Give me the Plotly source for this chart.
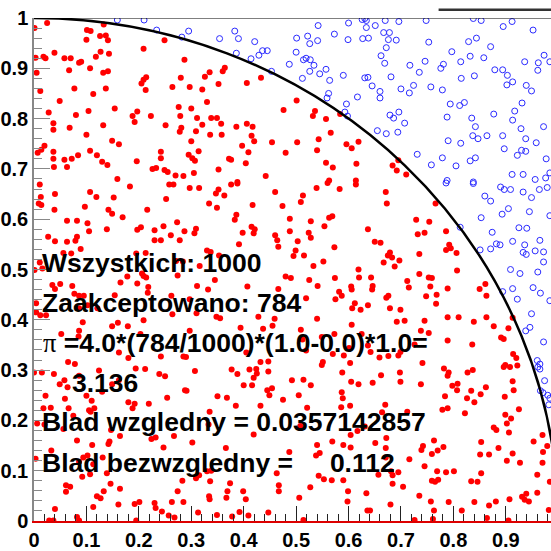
import plotly.graph_objects as go

# Monte Carlo estimate of pi: accepted points (inside the unit quarter circle)
inside_pts = [
    (0.001,0.980),(0.025,0.990),(0.101,0.976),(0.108,0.974),(0.133,0.987),(0.100,0.957),
    (0.126,0.964),(0.137,0.965),(0.141,0.956),(0.249,0.956),(0.209,0.939),(0.039,0.931),
    (0.003,0.921),(0.018,0.923),(0.022,0.920),(0.058,0.920),(0.070,0.920),(0.127,0.933),
    (0.118,0.923),(0.143,0.929),(0.086,0.911),(0.090,0.913),(0.005,0.891),(0.067,0.896),
    (0.107,0.900),(0.132,0.891),(0.141,0.894),(0.287,0.917),(0.214,0.882),(0.209,0.877),
    (0.205,0.870),(0.213,0.857),(0.280,0.881),(0.264,0.863),(0.012,0.855),(0.077,0.860),
    (0.113,0.849),(0.137,0.860),(0.049,0.835),(0.028,0.812),(0.154,0.820),(0.197,0.814),
    (0.188,0.805),(0.192,0.793),(0.223,0.805),(0.276,0.823),(0.279,0.805),(0.104,0.815),
    (0.080,0.807),(0.037,0.791),(0.037,0.778),(0.068,0.782),(0.132,0.787),(0.251,0.787),
    (0.281,0.782),(0.278,0.774),(0.100,0.768),(0.149,0.756),(0.162,0.749),(0.020,0.746),
    (0.014,0.738),(0.007,0.732),(0.107,0.736),(0.084,0.727),(0.120,0.727),(0.037,0.734),
    (0.037,0.720),(0.058,0.718),(0.072,0.720),(0.130,0.714),(0.140,0.708),(0.196,0.715),
    (0.242,0.734),(0.242,0.721),(0.038,0.704),(0.063,0.704),(0.226,0.700),(0.233,0.702),
    (0.249,0.698),(0.255,0.694),(0.270,0.687),(0.285,0.686),(0.159,0.680),
    (0.297,0.863),(0.321,0.858),(0.326,0.883),(0.335,0.892),(0.352,0.869),(0.360,0.894),
    (0.364,0.901),(0.406,0.871),(0.433,0.881),(0.300,0.820),(0.330,0.833),(0.311,0.801),
    (0.338,0.801),(0.349,0.801),(0.321,0.788),(0.357,0.790),(0.309,0.775),(0.336,0.768),
    (0.358,0.768),(0.386,0.784),(0.406,0.790),(0.417,0.784),(0.415,0.766),(0.420,0.755),
    (0.397,0.746),(0.409,0.733),(0.300,0.755),(0.314,0.735),(0.295,0.728),(0.302,0.721),
    (0.307,0.716),(0.372,0.720),(0.376,0.718),(0.404,0.711),(0.352,0.699),(0.305,0.692),
    (0.388,0.674),(0.442,0.686),(0.454,0.753),(0.480,0.732),(0.476,0.817),(0.501,0.836),
    (0.502,0.753),(0.532,0.805),(0.536,0.815),(0.557,0.799),(0.566,0.772),(0.543,0.759),
    (0.540,0.737),(0.584,0.809),(0.596,0.749),(0.606,0.741),(0.619,0.754),(0.557,0.712),
    (0.570,0.703),(0.615,0.710),(0.563,0.677),(0.614,0.677),
    (0.695,0.717),(0.684,0.707),(0.692,0.697),(0.710,0.689),
    (0.011,0.669),(0.013,0.644),(0.009,0.631),(0.014,0.628),(0.040,0.650),(0.039,0.619),
    (0.107,0.654),(0.119,0.644),(0.152,0.643),(0.183,0.665),(0.097,0.625),(0.142,0.619),
    (0.149,0.611),(0.169,0.604),(0.063,0.597),(0.082,0.597),(0.102,0.592),(0.105,0.576),
    (0.139,0.580),(0.197,0.579),(0.204,0.584),(0.216,0.619),(0.027,0.565),(0.040,0.556),
    (0.063,0.555),(0.079,0.557),(0.082,0.565),(0.089,0.541),(0.056,0.533),(0.071,0.532),
    (0.230,0.578),(0.230,0.558),(0.247,0.586),(0.261,0.568),(0.273,0.594),(0.258,0.669),
    (0.266,0.669),(0.252,0.640),(0.287,0.576),(0.278,0.558),(0.242,0.558),(0.213,0.533),
    (0.195,0.532),(0.001,0.499),(0.011,0.514),(0.016,0.502),(0.271,0.517),(0.274,0.488),
    (0.284,0.516),(0.206,0.492),(0.209,0.487),(0.214,0.484),(0.178,0.486),(0.165,0.474),
    (0.154,0.449),(0.197,0.472),(0.218,0.465),(0.217,0.454),(0.035,0.469),(0.040,0.461),
    (0.050,0.471),(0.073,0.467),(0.077,0.452),(0.086,0.448),(0.095,0.448),(0.102,0.429),
    (0.121,0.423),(0.086,0.423),(0.004,0.433),(0.004,0.415),(0.012,0.409),(0.023,0.409),
    (0.093,0.395),(0.086,0.378),(0.085,0.367),(0.052,0.372),(0.065,0.316),(0.078,0.312),
    (0.149,0.387),(0.160,0.394),(0.179,0.387),(0.209,0.399),(0.203,0.372),(0.162,0.335),
    (0.180,0.324),(0.242,0.327),(0.264,0.411),(0.262,0.448),(0.285,0.327),
    (0.297,0.662),(0.315,0.662),(0.352,0.659),(0.347,0.651),(0.363,0.647),(0.376,0.669),
    (0.388,0.671),(0.334,0.631),(0.349,0.623),(0.460,0.654),(0.417,0.628),(0.474,0.626),
    (0.513,0.647),(0.509,0.634),(0.539,0.662),(0.560,0.672),(0.583,0.660),(0.614,0.669),
    (0.386,0.609),(0.383,0.599),(0.488,0.601),(0.528,0.596),(0.563,0.603),(0.569,0.606),
    (0.554,0.586),(0.309,0.581),(0.306,0.572),(0.415,0.585),(0.421,0.580),(0.419,0.572),
    (0.398,0.573),(0.460,0.568),(0.464,0.558),(0.466,0.545),(0.488,0.576),(0.524,0.573),
    (0.528,0.563),(0.503,0.556),(0.391,0.550),(0.330,0.538),(0.337,0.535),(0.353,0.528),
    (0.499,0.538),(0.495,0.527),(0.515,0.528),(0.573,0.544),(0.552,0.516),(0.533,0.507),
    (0.316,0.507),(0.619,0.500),(0.620,0.484),(0.345,0.479),(0.480,0.486),(0.490,0.483),
    (0.525,0.479),(0.541,0.467),(0.574,0.483),(0.605,0.466),(0.311,0.467),(0.332,0.460),
    (0.407,0.466),(0.466,0.461),(0.582,0.456),(0.587,0.448),(0.606,0.460),(0.575,0.441),
    (0.519,0.443),(0.612,0.433),(0.607,0.423),(0.623,0.420),(0.297,0.441),(0.310,0.413),
    (0.348,0.406),(0.355,0.403),(0.428,0.406),(0.459,0.402),(0.455,0.388),(0.394,0.384),
    (0.437,0.382),(0.509,0.380),(0.540,0.402),(0.549,0.366),(0.573,0.372),(0.606,0.390),
    (0.601,0.344),(0.591,0.329),(0.603,0.314),(0.637,0.349),(0.297,0.378),(0.290,0.326),
    (0.405,0.335),(0.432,0.316),(0.447,0.317),(0.512,0.361),(0.519,0.339),(0.551,0.316),
    (0.570,0.332),(0.625,0.372),
    (0.671,0.654),(0.673,0.631),(0.766,0.631),(0.729,0.599),(0.754,0.595),(0.732,0.570),
    (0.745,0.573),(0.786,0.576),(0.637,0.580),(0.650,0.555),(0.661,0.553),(0.792,0.549),
    (0.786,0.539),(0.795,0.542),(0.806,0.533),(0.735,0.531),(0.675,0.528),(0.683,0.524),
    (0.679,0.534),(0.667,0.514),(0.697,0.518),(0.688,0.506),(0.807,0.498),(0.735,0.491),
    (0.753,0.484),(0.759,0.483),(0.643,0.484),(0.646,0.467),(0.645,0.460),(0.712,0.477),
    (0.715,0.464),(0.756,0.466),(0.789,0.462),(0.768,0.450),(0.748,0.447),(0.676,0.448),
    (0.672,0.444),(0.637,0.429),(0.679,0.423),(0.699,0.420),(0.767,0.432),(0.850,0.461),
    (0.861,0.471),(0.863,0.448),(0.789,0.405),(0.810,0.405),(0.863,0.405),(0.913,0.404),
    (0.692,0.396),(0.707,0.398),(0.745,0.398),(0.738,0.378),(0.753,0.374),(0.839,0.396),
    (0.877,0.387),(0.905,0.383),(0.891,0.365),(0.896,0.362),(0.789,0.359),(0.836,0.351),
    (0.726,0.351),(0.699,0.336),(0.695,0.329),(0.659,0.325),(0.676,0.328),(0.642,0.336),
    (0.741,0.314),(0.914,0.332),(0.920,0.324),(0.899,0.310),(0.922,0.309),
    (0.000,0.295),(0.015,0.295),(0.038,0.292),(0.049,0.272),(0.058,0.280),(0.064,0.266),
    (0.086,0.289),(0.124,0.299),(0.130,0.257),(0.149,0.272),(0.162,0.280),(0.194,0.303),
    (0.212,0.302),(0.239,0.292),(0.250,0.288),(0.254,0.245),(0.288,0.260),(0.022,0.249),
    (0.059,0.243),(0.100,0.249),(0.110,0.239),(0.018,0.224),(0.032,0.225),(0.066,0.224),
    (0.075,0.209),(0.105,0.220),(0.115,0.224),(0.108,0.217),(0.180,0.236),(0.188,0.224),
    (0.192,0.233),(0.219,0.233),(0.006,0.194),(0.020,0.192),(0.056,0.183),(0.082,0.160),
    (0.111,0.151),(0.147,0.181),(0.144,0.158),(0.142,0.153),(0.164,0.169),(0.224,0.163),
    (0.232,0.166),(0.267,0.169),(0.247,0.146),(0.033,0.140),(0.003,0.124),(0.086,0.118),
    (0.094,0.126),(0.102,0.130),(0.113,0.113),(0.131,0.126),(0.107,0.093),(0.092,0.088),
    (0.139,0.095),(0.146,0.074),(0.061,0.071),(0.069,0.068),(0.061,0.058),(0.133,0.059),
    (0.164,0.064),(0.120,0.049),(0.127,0.045),(0.040,0.024),(0.113,0.028),(0.161,0.033),
    (0.192,0.034),(0.201,0.038),(0.230,0.036),(0.232,0.026),(0.244,0.019),(0.257,0.011),
    (0.268,0.007),(0.263,0.038),(0.274,0.059),(0.283,0.080),(0.285,0.038),(0.082,0.008),
    (0.086,0.001),(0.029,0.001),(0.037,0.001),(0.195,0.001),
    (0.307,0.298),(0.377,0.301),(0.388,0.292),(0.411,0.301),(0.424,0.302),(0.425,0.293),
    (0.419,0.285),(0.447,0.297),(0.549,0.310),(0.588,0.295),(0.605,0.277),(0.619,0.272),
    (0.492,0.280),(0.514,0.281),(0.528,0.270),(0.400,0.270),(0.416,0.270),(0.445,0.260),
    (0.454,0.264),(0.449,0.250),(0.350,0.248),(0.368,0.245),(0.475,0.241),(0.505,0.250),
    (0.587,0.256),(0.589,0.244),(0.291,0.259),(0.385,0.229),(0.432,0.229),(0.521,0.225),
    (0.586,0.226),(0.603,0.229),(0.335,0.217),(0.333,0.192),(0.508,0.189),(0.419,0.172),
    (0.604,0.171),(0.617,0.179),(0.631,0.188),(0.302,0.156),(0.366,0.145),(0.487,0.137),
    (0.540,0.151),(0.545,0.135),(0.538,0.130),(0.569,0.158),(0.590,0.151),(0.604,0.146),
    (0.330,0.099),(0.338,0.100),(0.315,0.091),(0.309,0.085),(0.336,0.079),(0.463,0.095),
    (0.543,0.090),(0.553,0.083),(0.568,0.081),(0.590,0.081),(0.374,0.075),(0.467,0.071),
    (0.467,0.059),(0.527,0.067),(0.399,0.059),(0.369,0.059),(0.367,0.046),(0.404,0.043),
    (0.334,0.049),(0.335,0.043),(0.506,0.046),(0.599,0.059),(0.598,0.039),(0.634,0.055),
    (0.636,0.021),(0.313,0.017),(0.349,0.012),(0.378,0.009),(0.392,0.018),(0.409,0.011),
    (0.447,0.017),(0.514,0.002),
    (0.646,0.275),(0.662,0.290),(0.698,0.295),(0.699,0.277),(0.782,0.303),(0.791,0.295),
    (0.789,0.289),(0.827,0.295),(0.837,0.300),(0.896,0.306),(0.908,0.306),(0.738,0.272),
    (0.798,0.269),(0.808,0.273),(0.807,0.260),(0.834,0.259),(0.826,0.244),(0.840,0.236),
    (0.852,0.252),(0.862,0.266),(0.913,0.278),(0.915,0.260),(0.898,0.247),(0.784,0.248),
    (0.779,0.221),(0.789,0.224),(0.822,0.214),(0.664,0.216),(0.670,0.231),(0.712,0.217),
    (0.925,0.222),(0.899,0.211),(0.910,0.204),(0.877,0.186),(0.882,0.181),(0.902,0.194),
    (0.906,0.176),(0.672,0.165),(0.651,0.155),(0.671,0.145),(0.853,0.157),(0.763,0.160),
    (0.742,0.149),(0.739,0.141),(0.781,0.147),(0.759,0.133),(0.770,0.140),(0.970,0.171),
    (0.953,0.158),(0.979,0.149),(0.971,0.137),(0.886,0.145),(0.913,0.134),(0.851,0.132),
    (0.868,0.132),(0.716,0.123),(0.671,0.126),(0.902,0.120),(0.927,0.116),(0.970,0.116),
    (0.745,0.109),(0.769,0.099),(0.786,0.097),(0.801,0.099),(0.657,0.092),(0.681,0.099),
    (0.684,0.091),(0.695,0.097),(0.853,0.095),(0.960,0.092),(0.759,0.080),(0.765,0.078),
    (0.771,0.082),(0.834,0.079),(0.846,0.078),(0.684,0.074),(0.704,0.068),(0.984,0.078),
    (0.735,0.050),(0.757,0.039),(0.791,0.038),(0.840,0.038),(0.881,0.039),(0.868,0.031),
    (0.907,0.043),(0.931,0.048),(0.936,0.042),(0.944,0.039),(0.939,0.054),(0.960,0.056),
    (0.680,0.033),(0.641,0.021),(0.763,0.021),(0.816,0.021),(0.864,0.006),(0.982,0.022),
    (0.726,0.002),(0.761,0.004),(0.905,0.001),
]

# Rejected points (outside the quarter circle)
outside_pts = [
    (0.159,0.996),(0.210,0.996),(0.234,0.976),(0.282,0.962),
    (0.295,0.974),(0.354,0.959),(0.383,0.974),(0.390,0.959),(0.421,0.953),(0.386,0.930),
    (0.414,0.919),(0.429,0.926),(0.436,0.935),(0.445,0.935),(0.453,0.894),(0.487,0.908),
    (0.501,0.960),(0.500,0.932),(0.522,0.964),(0.526,0.949),(0.542,0.985),(0.541,0.955),
    (0.514,0.917),(0.519,0.920),(0.527,0.917),(0.534,0.906),(0.526,0.894),(0.512,0.880),
    (0.545,0.889),(0.557,0.898),(0.564,0.876),(0.573,0.968),(0.600,0.990),(0.599,0.957),
    (0.626,0.997),(0.631,0.999),(0.634,0.995),(0.634,0.981),(0.627,0.959),(0.590,0.886),
    (0.631,0.881),(0.562,0.850),(0.559,0.841),(0.617,0.843),(0.596,0.829),(0.593,0.813),
    (0.598,0.805),
    (0.651,0.985),(0.670,0.995),(0.696,0.993),(0.748,0.995),(0.838,0.999),(0.853,0.995),
    (0.895,0.983),(0.912,0.993),(0.952,0.976),(0.667,0.971),(0.678,0.971),(0.638,0.960),
    (0.676,0.957),(0.691,0.956),(0.672,0.941),(0.753,0.952),(0.829,0.953),(0.844,0.960),
    (0.871,0.943),(0.797,0.933),(0.662,0.925),(0.669,0.910),(0.717,0.906),(0.746,0.914),
    (0.735,0.892),(0.776,0.900),(0.781,0.908),(0.814,0.913),(0.832,0.924),(0.858,0.921),
    (0.973,0.926),(0.962,0.911),(0.936,0.913),(0.984,0.913),(0.879,0.897),(0.894,0.897),
    (0.961,0.896),(0.903,0.886),(0.913,0.873),(0.902,0.867),(0.939,0.866),(0.949,0.855),
    (0.815,0.880),(0.840,0.885),(0.681,0.883),(0.637,0.882),(0.645,0.865),(0.660,0.854),
    (0.660,0.841),(0.700,0.859),(0.724,0.866),(0.716,0.851),(0.757,0.863),(0.779,0.857),
    (0.794,0.829),(0.812,0.826),(0.821,0.832),(0.931,0.831),(0.917,0.815),(0.679,0.807),
    (0.686,0.801),(0.696,0.813),(0.707,0.791),(0.788,0.803),(0.835,0.801),(0.877,0.809),
    (0.913,0.797),(0.842,0.784),(0.837,0.766),(0.847,0.760),(0.864,0.766),(0.894,0.766),
    (0.929,0.780),(0.938,0.760),(0.972,0.784),(0.655,0.776),(0.672,0.770),(0.694,0.773),
    (0.790,0.756),(0.814,0.751),(0.897,0.740),(0.930,0.737),(0.938,0.735),(0.922,0.727),
    (0.958,0.752),(0.977,0.720),(0.731,0.729),(0.758,0.708),(0.779,0.722),(0.805,0.706),
    (0.832,0.716),(0.842,0.722),(0.912,0.689),(0.933,0.689),(0.956,0.679),(0.976,0.682),
    (0.984,0.692),(0.788,0.677),(0.838,0.674),
    (0.786,0.672),(0.838,0.671),(0.890,0.664),(0.897,0.659),(0.909,0.659),(0.933,0.654),
    (0.949,0.643),(0.964,0.659),(0.979,0.663),(0.860,0.646),(0.871,0.636),(0.893,0.610),
    (0.905,0.621),(0.945,0.615),(0.984,0.607),(0.853,0.603),(0.813,0.584),(0.874,0.574),
    (0.925,0.583),(0.940,0.582),(0.965,0.558),(0.913,0.556),(0.882,0.551),(0.889,0.549),
    (0.851,0.539),(0.871,0.541),(0.936,0.549),(0.933,0.534),(0.939,0.530),(0.956,0.537),
    (0.972,0.535),(0.972,0.515),(0.909,0.500),(0.927,0.492),(0.961,0.495),(0.894,0.456),
    (0.913,0.462),(0.922,0.441),(0.952,0.464),(0.966,0.453),(0.984,0.438),(0.949,0.412),
    (0.946,0.385),(0.938,0.378),(0.972,0.356),(0.960,0.319),(0.965,0.312),
    (0.961,0.306),(0.965,0.302),(0.974,0.279),(0.966,0.259),(0.971,0.255),(0.980,0.250),
    (0.984,0.244),(0.982,0.231),
]

n_total = 1000
n_accepted = 784
pi_estimate = 3.136
rel_error = "0.0357142857"
abs_error = "0.112"

x_tick_values = [0, 0.1, 0.2, 0.3, 0.4, 0.5, 0.6, 0.7, 0.8, 0.9]
y_tick_values = [0, 0.1, 0.2, 0.3, 0.4, 0.5, 0.6, 0.7, 0.8, 0.9, 1]

in_x = [p[0] for p in inside_pts]
in_y = [p[1] for p in inside_pts]
out_x = [p[0] for p in outside_pts]
out_y = [p[1] for p in outside_pts]

fig = go.Figure()
fig.add_trace(go.Scatter(
    x=in_x, y=in_y, mode="markers",
    marker=dict(symbol="circle", size=6, color="#ff0000", line=dict(width=0)),
    cliponaxis=True, hoverinfo="skip", showlegend=False,
))
fig.add_trace(go.Scatter(
    x=out_x, y=out_y, mode="markers",
    marker=dict(symbol="circle-open", size=6, color="#2b2bff", line=dict(width=1)),
    cliponaxis=True, hoverinfo="skip", showlegend=False,
))

# unit circle (only the first quadrant is inside the axes)
fig.add_shape(type="circle", xref="x", yref="y", x0=-1, y0=-1, x1=1, y1=1,
              line=dict(color="black", width=2.5), layer="above")
# frame line at y = 1
fig.add_shape(type="line", xref="paper", yref="y", x0=0, x1=1, y0=1, y1=1,
              line=dict(color="black", width=1))
# edge of the box above the frame
fig.add_shape(type="line", xref="paper", yref="paper", x0=0.7826, x1=1.01, y0=1.0164, y1=1.0164,
              line=dict(color="#333333", width=2.5))

FONT = "Liberation Sans, Arial, Helvetica, sans-serif"
tfont = dict(family=FONT, size=26.5, color="black", weight="bold")

nb = "\u00a0"
lines = [
    (0.0127, 0.5137, f"Wszystkich: {n_total}"),
    (0.0127, 0.4335, f"Zaakceptowano: {n_accepted}"),
    (0.0143, 0.3543,
     "<span style=\"font-family:'Liberation Serif', serif;font-weight:normal\">\u03c0</span>"
     f" =4.0*({n_accepted}/{n_total})*(1.0-0.0)*1.0="),
    (0.0700, 0.2751, f"{pi_estimate:.3f}"),
    (0.0127, 0.1960, f"Blad wzgledny = {rel_error}"),
    (0.0127, 0.1158, "Blad bezwzgledny =" + nb * 5 + abs_error),
]
for x, y, t in lines:
    fig.add_annotation(x=x, y=y, xref="x", yref="y", text=t, showarrow=False,
                       xanchor="left", yanchor="middle", font=tfont, borderpad=0)

axis_font = dict(family=FONT, size=20, color="black", weight="bold")
fig.update_xaxes(
    range=[0, 0.9862], tickvals=x_tick_values, ticks="inside", ticklen=15, tickwidth=1,
    tickcolor="#222222", showline=True, linecolor="#dd0000", linewidth=1.5,
    showgrid=False, zeroline=False, tickfont=axis_font,
    minor=dict(ticks="inside", dtick=0.02, tick0=0, ticklen=7, tickcolor="#222222", showgrid=False),
)
fig.update_yaxes(
    range=[0, 1], tickvals=y_tick_values, ticks="inside", ticklen=16, tickwidth=1,
    tickcolor="#888888", showline=True, linecolor="#888888", linewidth=1.5,
    showgrid=False, zeroline=False, tickfont=axis_font,
    minor=dict(ticks="inside", dtick=0.02, tick0=0, ticklen=8, tickcolor="#888888", showgrid=False),
)
fig.update_layout(
    width=551, height=551,
    margin=dict(l=31.3, r=0, t=18.3, b=27.5, pad=0),
    paper_bgcolor="white", plot_bgcolor="white",
    showlegend=False,
)
fig.write_html("out.html")
